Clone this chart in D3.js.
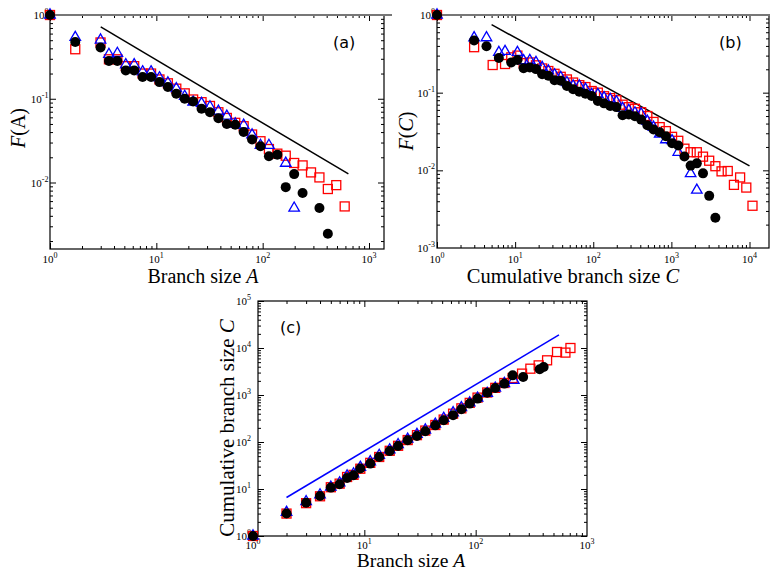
<!DOCTYPE html>
<html><head><meta charset="utf-8">
<script src="https://cdn.jsdelivr.net/npm/d3@7"></script>
<style>body{margin:0;background:#fff}svg{display:block}</style>
</head><body>
<svg id="chart" width="770" height="571"></svg>
<script>
// ---------------- DATA ----------------
// Panel (a): F(A) vs branch size A
const aRed = [[1,1],[1.728,0.39],[2.986,0.47],[3.583,0.296],[4.3,0.296],[5.16,0.245],[6.19,0.245],[7.43,0.2],[8.92,0.2],
  [10.7,0.17],[12.84,0.153],[15.41,0.132],[18.49,0.116],[22.19,0.098],[26.62,0.091],[31.95,0.082],[38.34,0.069],
  [46.01,0.059],[55.21,0.0516],[66.25,0.047],[79.5,0.0374],[95.4,0.0311],[114.5,0.0251],[137.4,0.0221],[164.8,0.0209],
  [197.8,0.0171],[237.4,0.016],[284.9,0.0132],[341.8,0.0115],[410.2,0.00836],[492.2,0.0093],[590.7,0.00518]];
const aBlue = [[1,1],[1.728,0.54],[2.986,0.503],[3.583,0.339],[4.3,0.349],[5.16,0.255],[6.19,0.255],[7.43,0.21],[8.92,0.21],
  [10.7,0.178],[12.84,0.155],[15.41,0.132],[18.49,0.107],[22.19,0.091],[26.62,0.088],[31.95,0.08],[38.34,0.071],
  [46.01,0.062],[55.21,0.05],[66.25,0.0483],[79.5,0.037],[95.4,0.0278],[114.5,0.0278],[164.8,0.017],[197.8,0.00495]];
const aBlack = [[1,1],[1.728,0.476],[2.986,0.41],[3.583,0.282],[4.3,0.282],[5.16,0.218],[6.19,0.218],[7.43,0.182],[8.92,0.182],
  [10.7,0.158],[12.84,0.138],[15.41,0.115],[18.49,0.1],[22.19,0.093],[26.62,0.076],[31.95,0.069],[38.34,0.0586],
  [46.01,0.05],[55.21,0.049],[66.25,0.04],[79.5,0.0326],[95.4,0.0271],[114.5,0.0206],[137.4,0.0215],[164.8,0.0088],
  [197.8,0.0126],[237.4,0.0075],[341.8,0.00495],[410.2,0.00244]];
const aLine = [[3,0.72],[640,0.0127]];

// Panel (b): F(C) vs cumulative branch size C
const bRed = [[1,1],[2.986,0.385],[5.16,0.227],[7.43,0.234],[8.92,0.285],[10.7,0.3],[12.84,0.24],[15.41,0.245],[18.49,0.225],
  [22.19,0.205],[26.62,0.19],[31.95,0.175],[38.34,0.16],[46.01,0.148],[55.21,0.135],[66.25,0.125],[79.5,0.118],
  [95.4,0.105],[114.5,0.1],[137.4,0.09],[164.8,0.085],[197.8,0.08],[237.4,0.07],[284.9,0.065],[341.8,0.062],
  [410.2,0.056],[492.2,0.05],[590.7,0.042],[708.8,0.036],[850.6,0.032],[1020.7,0.027],[1224.9,0.024],[1469.8,0.019],
  [1763.8,0.0171],[2116.5,0.0171],[2539.8,0.015],[3047.8,0.0133],[3657.4,0.0113],[4388.8,0.0097],[5266.6,0.0098],
  [6319.9,0.0065],[7583.9,0.0081],[9100.7,0.006],[10920.8,0.0035]];
const bBlue = [[1,1],[2.986,0.51],[4.3,0.51],[6.19,0.33],[7.43,0.34],[10.7,0.33],[12.84,0.258],[15.41,0.26],[18.49,0.245],
  [22.19,0.211],[26.62,0.191],[31.95,0.17],[38.34,0.157],[46.01,0.135],[55.21,0.122],[66.25,0.122],[79.5,0.111],
  [95.4,0.095],[114.5,0.095],[137.4,0.086],[164.8,0.082],[197.8,0.0764],[237.4,0.0627],[284.9,0.059],[341.8,0.055],
  [410.2,0.0533],[492.2,0.0429],[590.7,0.0359],[708.8,0.0294],[850.6,0.0248],[1020.7,0.0241],[1224.9,0.0171],
  [1763.8,0.0091],[2116.5,0.00556]];
const bBlack = [[1,1],[2.986,0.469],[4.3,0.396],[6.19,0.28],[8.92,0.245],[10.7,0.264],[12.84,0.207],[15.41,0.211],[18.49,0.201],
  [22.19,0.173],[26.62,0.165],[31.95,0.145],[38.34,0.142],[46.01,0.122],[55.21,0.111],[66.25,0.103],[79.5,0.097],
  [95.4,0.0906],[114.5,0.078],[137.4,0.0728],[164.8,0.0672],[197.8,0.0652],[237.4,0.0513],[284.9,0.0524],[341.8,0.0498],
  [410.2,0.045],[492.2,0.038],[590.7,0.0335],[708.8,0.0309],[850.6,0.0274],[1020.7,0.0224],[1224.9,0.0209],
  [1469.8,0.0151],[1763.8,0.0115],[2116.5,0.0123],[2539.8,0.00914],[3047.8,0.00469],[3657.4,0.00245]];
const bLine = [[5,0.75],[10000,0.0114]];

// Panel (c): C vs A
const cRed = [[1,1],[2,3.0],[3,5.0],[4,7.0],[5,10.9],[6,13],[7,18],[8,20],[9.2,27],[11.3,36],[13.6,48],[16.9,65],[20.1,83],
  [24.5,110],[29.7,140],[35.3,175],[43.4,230],[51.6,300],[62.7,400],[74.4,520],[88.4,680],[104,880],[127,1130],
  [150,1420],[181,1800],[215,2300],[261,2850],[310,3630],[368,4270],[438,5470],[538,8220],[640,7980],[710,10000]];
const cBlue = [[1,1],[2,3.2],[3,5.4],[4,7.5],[5,11],[6,13.5],[7,19],[8,21],[9.2,29],[11.3,38],[13.6,52],[16.9,68],[20.1,88],
  [24.5,115],[29.7,145],[35.3,180],[43.4,240],[51.6,320],[62.7,420],[74.4,540],[88.4,680],[104,860],[127,1080],
  [150,1400],[181,1760],[220,2055]];
const cBlack = [[1,1],[2,3.0],[3,5.1],[4,7.1],[5,10.7],[6,12.6],[7,17.1],[8,19.6],[9.2,27.2],[11.3,34.7],[13.6,48],[16.9,64],
  [20.1,82],[24.5,109],[29.7,134],[35.3,169],[43.4,226],[51.6,290],[62.7,370],[74.4,497],[88.4,656],[104,838],
  [127,1123],[150,1410],[181,1746],[215,2620],[267,2415],[376,3520],[408,3945]];
const cLine = [[2,6.6],[560,19000]];

// ---------------- DRAWING ----------------
const svg = d3.select("#chart");
const SERIF = "'Liberation Serif','Times New Roman',serif";
const SANS = "'DejaVu Sans',sans-serif";

function addExpLabel(t, v) {
  const e = Math.round(Math.log10(v));
  t.append("tspan").text("10");
  t.append("tspan").attr("dy", -5).attr("font-size", 8).text(e);
}

function panel(cfg) {
  const g = svg.append("g");
  const f = cfg.frame;
  const x = d3.scaleLog().domain(cfg.xDom).range(cfg.xRange);
  const y = d3.scaleLog().domain(cfg.yDom).range(cfg.yRange);
  const xt = d3.scaleLog().domain([x.invert(f.x0), x.invert(f.x1)]).ticks();
  const yt = d3.scaleLog().domain([y.invert(f.y1), y.invert(f.y0)]).ticks();
  const inX = v => x(v) >= f.x0 - 0.5 && x(v) <= f.x1 + 0.5;
  const inY = v => y(v) >= f.y0 - 0.5 && y(v) <= f.y1 + 0.5;
  const isMaj = v => Math.abs(Math.log10(v) - Math.round(Math.log10(v))) < 1e-6;
  const xMaj = xt.filter(v => isMaj(v) && inX(v)), xMin = xt.filter(v => !isMaj(v) && inX(v));
  const yMaj = yt.filter(v => isMaj(v) && inY(v)), yMin = yt.filter(v => !isMaj(v) && inY(v));

  const axes = [
    [d3.axisBottom(x), `translate(0,${f.y1})`, xMaj, xMin],
    [d3.axisTop(x), `translate(0,${f.y0})`, xMaj, xMin],
    [d3.axisLeft(y), `translate(${f.x0},0)`, yMaj, yMin],
    [d3.axisRight(y), `translate(${f.x1},0)`, yMaj, yMin]
  ];
  axes.forEach(([ax, tr, maj, min]) => {
    const a1 = g.append("g").attr("transform", tr).call(ax.tickValues(maj).tickSize(-6).tickFormat(""));
    const a2 = g.append("g").attr("transform", tr).call(ax.tickValues(min).tickSize(-3).tickFormat(""));
    [a1, a2].forEach(a => { a.select(".domain").remove(); a.selectAll("line").attr("stroke", "#000").attr("stroke-width", 1); });
  });
  // frame
  g.append("rect").attr("x", f.x0).attr("y", f.y0).attr("width", f.x1 - f.x0).attr("height", f.y1 - f.y0)
    .attr("fill", "none").attr("stroke", "#000").attr("stroke-width", 1.2);
  if (cfg.greyTop) g.append("line").attr("x1", f.x0).attr("x2", f.x1 + 8).attr("y1", f.y0).attr("y2", f.y0)
    .attr("stroke", "#777").attr("stroke-width", 2.2);

  // tick labels
  cfg.xLabVals.forEach(v => {
    const t = g.append("text").attr("x", x(v)).attr("y", cfg.xLabY).attr("text-anchor", "middle")
      .attr("font-family", SERIF).attr("font-size", 11).attr("fill", "#000");
    addExpLabel(t, v);
  });
  cfg.yLabVals.forEach(v => {
    const t = g.append("text").attr("x", cfg.yLabX).attr("y", y(v) + 4).attr("text-anchor", "end")
      .attr("font-family", SERIF).attr("font-size", 11).attr("fill", "#000");
    addExpLabel(t, v);
  });

  // reference line
  g.append("path").datum(cfg.line).attr("fill", "none").attr("stroke", cfg.lineColor).attr("stroke-width", 1.5)
    .attr("d", d3.line().x(d => x(d[0])).y(d => y(d[1])));

  // markers: squares, triangles, circles
  g.selectAll(null).data(cfg.red).enter().append("rect")
    .attr("x", d => x(d[0]) - 4.5).attr("y", d => y(d[1]) - 4.5).attr("width", 9).attr("height", 9)
    .attr("fill", "none").attr("stroke", "#ff0000").attr("stroke-width", 1.3);
  g.selectAll(null).data(cfg.blue).enter().append("path")
    .attr("d", d3.symbol(d3.symbolTriangle, 48))
    .attr("transform", d => `translate(${x(d[0])},${y(d[1])})`)
    .attr("fill", "none").attr("stroke", "#0000ff").attr("stroke-width", 1.3);
  g.selectAll(null).data(cfg.black).enter().append("circle")
    .attr("cx", d => x(d[0])).attr("cy", d => y(d[1])).attr("r", 5).attr("fill", "#000");

  // panel label
  g.append("text").attr("x", cfg.tag[1]).attr("y", cfg.tag[2]).attr("font-family", SANS).attr("font-size", 16)
    .attr("fill", "#000").text(cfg.tag[0]);
  return g;
}

function title(x, y, parts, size, rotate) {
  const t = svg.append("text").attr("text-anchor", "middle").attr("font-family", SERIF).attr("font-size", size)
    .attr("fill", "#000").attr("transform", `translate(${x},${y})` + (rotate ? " rotate(-90)" : ""));
  parts.forEach(p => t.append("tspan").attr("font-style", p[1] ? "italic" : "normal").text(p[0]));
}

panel({
  frame: {x0: 50, x1: 384, y0: 15, y1: 249},
  xDom: [1, 1000], xRange: [50, 369], yDom: [0.01, 1], yRange: [182.5, 15],
  xLabVals: [1, 10, 100, 1000], xLabY: 263, yLabVals: [1, 0.1, 0.01], yLabX: 48.5,
  red: aRed, blue: aBlue, black: aBlack, line: aLine, lineColor: "#000", tag: ["(a)", 333, 48], greyTop: true
});
panel({
  frame: {x0: 437, x1: 769, y0: 15, y1: 248},
  xDom: [1, 10000], xRange: [437, 749.5], yDom: [0.001, 1], yRange: [248, 15],
  xLabVals: [1, 10, 100, 1000, 10000], xLabY: 263, yLabVals: [1, 0.1, 0.01, 0.001], yLabX: 435,
  red: bRed, blue: bBlue, black: bBlack, line: bLine, lineColor: "#000", tag: ["(b)", 719, 48], greyTop: true
});
panel({
  frame: {x0: 258, x1: 587, y0: 301, y1: 536},
  xDom: [1, 1000], xRange: [253, 587], yDom: [1, 100000], yRange: [536, 301],
  xLabVals: [1, 10, 100, 1000], xLabY: 549, yLabVals: [1, 10, 100, 1000, 10000, 100000], yLabX: 251,
  red: cRed, blue: cBlue, black: cBlack, line: cLine, lineColor: "#0000ff", tag: ["(c)", 280, 333], greyTop: false
});

title(203, 283, [["Branch size ", false], ["A", true]], 20, false);
title(25, 128, [["F", true], ["(A)", false]], 20, true);
title(573, 283, [["Cumulative branch size ", false], ["C", true]], 20.5, false);
title(413, 131, [["F", true], ["(", false], ["C", true], [")", false]], 20, true);
title(411, 567, [["Branch size ", false], ["A", true]], 19.5, false);
title(234, 428, [["Cumulative branch size ", false], ["C", true]], 21, true);
</script>
</body></html>
